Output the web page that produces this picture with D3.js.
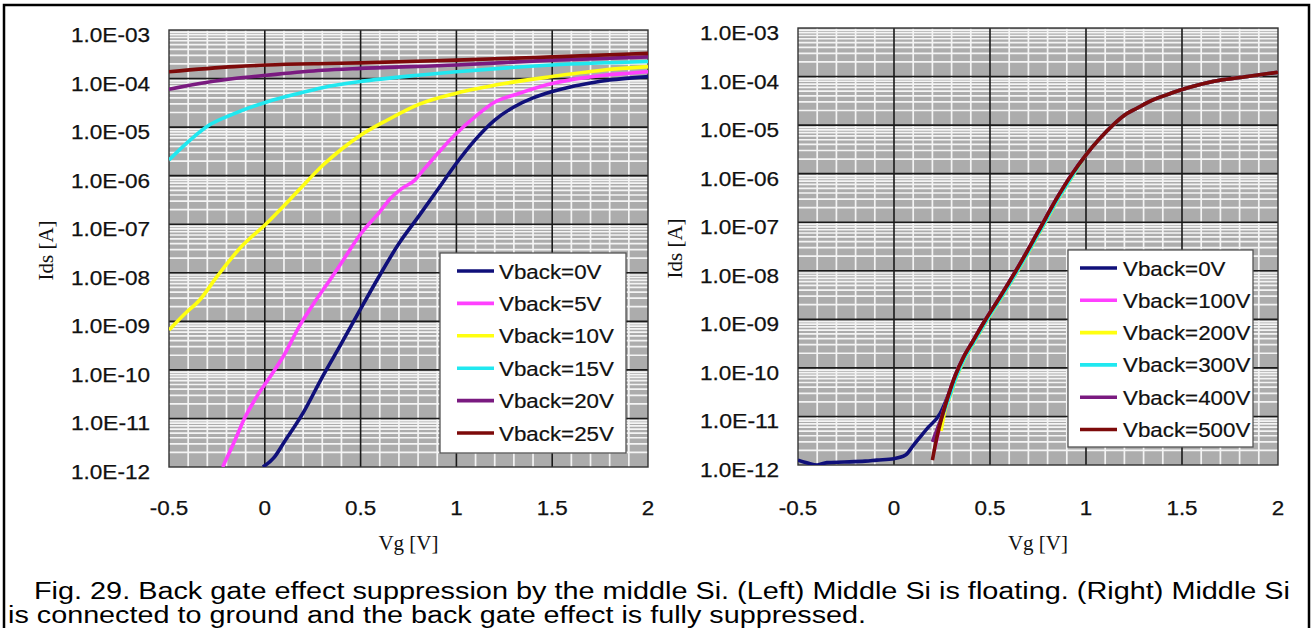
<!DOCTYPE html>
<html><head><meta charset="utf-8">
<script src="https://cdn.jsdelivr.net/npm/d3@7"></script>
<style>body{margin:0;background:#fff;} svg{display:block;}</style>
</head><body>
<svg id="c" width="1312" height="628"></svg>
<script>
// ---------- DATA ----------
const xTicks = [-0.5, 0, 0.5, 1, 1.5, 2];
const xTickLabels = ["-0.5", "0", "0.5", "1", "1.5", "2"];
const yTicks = [1e-3, 1e-4, 1e-5, 1e-6, 1e-7, 1e-8, 1e-9, 1e-10, 1e-11, 1e-12];
const yTickLabels = ["1.0E-03","1.0E-04","1.0E-05","1.0E-06","1.0E-07","1.0E-08","1.0E-09","1.0E-10","1.0E-11","1.0E-12"];

const leftNames = ["Vback=0V","Vback=5V","Vback=10V","Vback=15V","Vback=20V","Vback=25V"];
const rightNames = ["Vback=0V","Vback=100V","Vback=200V","Vback=300V","Vback=400V","Vback=500V"];
const colors = ["#10107a","#ff40ff","#ffff10","#20e8f0","#7a1a80","#7d0a0a"];

// Left panel (middle Si floating)
const L0_vg = [-0.01,0.05,0.1,0.2,0.3,0.4,0.5,0.6,0.7,0.8,0.9,1.0,1.1,1.2,1.3,1.4,1.5,1.6,1.7,1.8,1.9,2.0];
const L0_id = [1e-12,1.6e-12,3.2e-12,1.3e-11,7.1e-11,3.5e-10,1.8e-9,8.9e-9,4.0e-8,1.4e-7,5.0e-7,1.8e-6,5.6e-6,1.4e-5,2.6e-5,4.0e-5,5.4e-5,6.8e-5,8.1e-5,9.3e-5,1.02e-4,1.1e-4];

const L5_vg = [-0.22,-0.15,-0.11,-0.05,0.04,0.1,0.18,0.26,0.34,0.4,0.5,0.6,0.65,0.72,0.78,0.82,0.9,1.0,1.1,1.19,1.33,1.5,1.65,1.77,1.9,2.0];
const L5_id = [1e-12,4.0e-12,9.3e-12,2.5e-11,8.5e-11,2.0e-10,7.9e-10,2.5e-9,7.1e-9,1.6e-8,6.3e-8,1.8e-7,3.2e-7,5.6e-7,7.9e-7,1.2e-6,2.8e-6,7.4e-6,1.66e-5,3.1e-5,5.0e-5,7.9e-5,1.02e-4,1.17e-4,1.29e-4,1.38e-4];

const L10_vg = [-0.5,-0.42,-0.34,-0.25,-0.13,0.01,0.13,0.22,0.3,0.4,0.5,0.64,0.81,1.0,1.25,1.5,1.77,2.0];
const L10_id = [6.6e-10,1.4e-9,2.75e-9,8.3e-9,3.2e-8,1.05e-7,3.2e-7,7.6e-7,1.6e-6,3.5e-6,6.8e-6,1.4e-5,3.0e-5,5.0e-5,7.9e-5,1.1e-4,1.5e-4,1.76e-4];

const L15_vg = [-0.5,-0.39,-0.29,-0.16,0.01,0.18,0.3,0.5,0.8,1.0,1.5,2.0];
const L15_id = [2.1e-6,5.4e-6,1.1e-5,1.9e-5,3.3e-5,5.0e-5,6.5e-5,8.7e-5,1.17e-4,1.38e-4,1.9e-4,2.24e-4];

const L20_vg = [-0.5,-0.34,-0.16,0.01,0.3,0.5,1.0,1.5,2.0];
const L20_id = [6.0e-5,7.9e-5,1.0e-4,1.17e-4,1.48e-4,1.62e-4,1.9e-4,2.4e-4,2.8e-4];

const L25_vg = [-0.5,-0.16,0.01,0.33,0.5,1.0,1.5,2.0];
const L25_id = [1.38e-4,1.76e-4,1.9e-4,2.04e-4,2.1e-4,2.4e-4,2.8e-4,3.3e-4];

// Right panel (middle Si grounded)
const R0_vg = [-0.5,-0.45,-0.4,-0.35,-0.26,-0.15,-0.09,0.0,0.06,0.1,0.17,0.24,0.28,0.32,0.36,0.41,0.47,0.55,0.65,0.75,0.85,0.92,1.0,1.07,1.142,1.2,1.263,1.34,1.42,1.54,1.66,1.84,2.0];
const R0_id = [1.26e-12,1.1e-12,1.0e-12,1.12e-12,1.15e-12,1.2e-12,1.26e-12,1.35e-12,1.6e-12,2.5e-12,5.5e-12,1.15e-11,2.6e-11,7.1e-11,1.6e-10,3.5e-10,8.9e-10,2.8e-9,1.26e-8,6.3e-8,3.2e-7,8.9e-7,2.45e-6,5.2e-6,1.02e-5,1.6e-5,2.2e-5,3.2e-5,4.2e-5,6.0e-5,7.9e-5,1.0e-4,1.23e-4];

const R100_vg = [0.21,0.23,0.25,0.28,0.32,0.36,0.41,0.47,0.55,0.65,0.75,0.85,0.92,1.0,1.07,1.142,1.2,1.263,1.34,1.42,1.54,1.66,1.84,2.0];
const R100_id = [2.0e-12,4.5e-12,1.0e-11,2.5e-11,7.1e-11,1.6e-10,3.5e-10,8.9e-10,2.8e-9,1.26e-8,6.3e-8,3.2e-7,8.9e-7,2.45e-6,5.2e-6,1.02e-5,1.6e-5,2.2e-5,3.2e-5,4.2e-5,6.0e-5,7.9e-5,1.0e-4,1.23e-4];

const R200_vg = [0.245,0.265,0.29,0.33,0.37,0.42,0.48,0.56,0.66,0.76,0.86,0.93,1.0,1.07,1.142,1.2,1.263,1.34,1.42,1.54,1.66,1.84,2.0];
const R200_id = [5.0e-12,1.3e-11,2.5e-11,7.1e-11,1.6e-10,3.5e-10,8.9e-10,2.8e-9,1.26e-8,6.3e-8,3.2e-7,8.9e-7,2.45e-6,5.2e-6,1.02e-5,1.6e-5,2.2e-5,3.2e-5,4.2e-5,6.0e-5,7.9e-5,1.0e-4,1.23e-4];

const R300_vg = [0.24,0.262,0.288,0.328,0.368,0.418,0.478,0.558,0.658,0.758,0.858,0.928,1.0,1.07,1.142,1.2,1.263,1.34,1.42,1.54,1.66,1.84,2.0];
const R300_id = [8.0e-12,1.3e-11,2.5e-11,7.1e-11,1.6e-10,3.5e-10,8.9e-10,2.8e-9,1.26e-8,6.3e-8,3.2e-7,8.9e-7,2.45e-6,5.2e-6,1.02e-5,1.6e-5,2.2e-5,3.2e-5,4.2e-5,6.0e-5,7.9e-5,1.0e-4,1.23e-4];

const R400_vg = [0.2,0.225,0.25,0.28,0.32,0.36,0.41,0.47,0.55,0.65,0.75,0.85,0.92,1.0,1.07,1.142,1.2,1.263,1.34,1.42,1.54,1.66,1.84,2.0];
const R400_id = [3.0e-12,5.5e-12,1.0e-11,2.5e-11,7.1e-11,1.6e-10,3.5e-10,8.9e-10,2.8e-9,1.26e-8,6.3e-8,3.2e-7,8.9e-7,2.45e-6,5.2e-6,1.02e-5,1.6e-5,2.2e-5,3.2e-5,4.2e-5,6.0e-5,7.9e-5,1.0e-4,1.23e-4];

const R500_vg = [0.2,0.22,0.25,0.28,0.32,0.36,0.41,0.47,0.55,0.65,0.75,0.85,0.92,1.0,1.07,1.142,1.2,1.263,1.34,1.42,1.54,1.66,1.84,2.0];
const R500_id = [1.26e-12,3.2e-12,1.0e-11,2.5e-11,7.1e-11,1.6e-10,3.5e-10,8.9e-10,2.8e-9,1.26e-8,6.3e-8,3.2e-7,8.9e-7,2.45e-6,5.2e-6,1.02e-5,1.6e-5,2.2e-5,3.2e-5,4.2e-5,6.0e-5,7.9e-5,1.0e-4,1.23e-4];

const captionLines = [
  "Fig. 29. Back gate effect suppression by the middle Si. (Left) Middle Si is floating. (Right) Middle Si",
  "is connected to ground and the back gate effect is fully suppressed."
];

// ---------- DRAW ----------
const svg = d3.select("#c");
function stretch(sel, k){ sel.each(function(){ const w=this.getComputedTextLength(); d3.select(this).attr("textLength", w*k).attr("lengthAdjust","spacingAndGlyphs"); }); }
function fitTo(sel, target){ sel.attr("textLength", target).attr("lengthAdjust","spacingAndGlyphs"); }

// outer frame
svg.append("path").attr("d","M4,640V5H1309V640").attr("fill","none").attr("stroke","#000").attr("stroke-width",2.5);

function panel(id, box, series, names, legendBox) {
  const x = d3.scaleLinear().domain([-0.5, 2]).range([box.x0, box.x1]);
  const y = d3.scaleLog().domain([1e-12, 1e-3]).range([box.y1, box.y0]);
  const g = svg.append("g");
  g.append("rect").attr("x",box.x0).attr("y",box.y0).attr("width",box.x1-box.x0).attr("height",box.y1-box.y0).attr("fill","#acacac");
  // minor grid
  const minorX = d3.range(-5, 21).map(i => i/10).filter(v => Math.abs(v*2 - Math.round(v*2)) > 1e-6);
  g.selectAll(null).data(minorX).join("line")
    .attr("x1", d=>x(d)).attr("x2", d=>x(d)).attr("y1", box.y0).attr("y2", box.y1)
    .attr("stroke","#f4f4f4").attr("stroke-width",1.7);
  const minorY = [];
  for (let e=-12; e<-3; e++) for (let k=2;k<=9;k++) minorY.push(k*Math.pow(10,e));
  g.selectAll(null).data(minorY).join("line")
    .attr("x1", box.x0).attr("x2", box.x1).attr("y1", d=>y(d)).attr("y2", d=>y(d))
    .attr("stroke","#f4f4f4").attr("stroke-width",1.7);
  // major grid
  g.selectAll(null).data(xTicks.slice(1,-1)).join("line")
    .attr("x1", d=>x(d)).attr("x2", d=>x(d)).attr("y1", box.y0).attr("y2", box.y1)
    .attr("stroke","#1a1a1a").attr("stroke-width",1.6);
  g.selectAll(null).data(yTicks.slice(1,-1)).join("line")
    .attr("x1", box.x0).attr("x2", box.x1).attr("y1", d=>y(d)).attr("y2", d=>y(d))
    .attr("stroke","#1a1a1a").attr("stroke-width",1.6);
  g.append("rect").attr("x",box.x0).attr("y",box.y0).attr("width",box.x1-box.x0).attr("height",box.y1-box.y0)
    .attr("fill","none").attr("stroke","#333").attr("stroke-width",1.4);

  // clip
  svg.append("clipPath").attr("id","clip"+id).append("rect")
    .attr("x",box.x0).attr("y",box.y0-3).attr("width",box.x1-box.x0+1).attr("height",box.y1-box.y0+3);
  const line = d3.line().x(d=>x(d[0])).y(d=>y(d[1])).curve(d3.curveMonotoneX);
  const lg = g.append("g").attr("clip-path","url(#clip"+id+")");
  series.forEach((s,i) => {
    const pts = s[0].map((v,j)=>[v, s[1][j]]);
    lg.append("path").attr("d", line(pts)).attr("fill","none")
      .attr("stroke", colors[i]).attr("stroke-width",3.6).attr("stroke-linejoin","round").attr("stroke-linecap","butt");
  });

  // y tick labels
  const yl = g.selectAll(null).data(yTicks).join("text")
    .attr("x", box.x0-19).attr("y", d=>y(d)+5).attr("text-anchor","end").attr("dominant-baseline","central")
    .attr("font-family","Liberation Sans, Arial, sans-serif").attr("font-size",20).attr("fill","#111")
    .attr("stroke","#111").attr("stroke-width",0.25)
    .text((d,i)=>yTickLabels[i]);
  fitTo(yl, 79);
  // x tick labels
  const xl = g.selectAll(null).data(xTicks).join("text")
    .attr("x", d=>x(d)).attr("y", 508).attr("text-anchor","middle").attr("dominant-baseline","central")
    .attr("font-family","Liberation Sans, Arial, sans-serif").attr("font-size",20).attr("fill","#111")
    .attr("stroke","#111").attr("stroke-width",0.25)
    .text((d,i)=>xTickLabels[i]);
  stretch(xl, 1.12);
  // axis titles
  g.append("text").attr("x",(box.x0+box.x1)/2).attr("y",543).attr("text-anchor","middle").attr("dominant-baseline","central")
    .attr("font-family","Liberation Serif, serif").attr("font-size",21).attr("fill","#111").text("Vg [V]");
  g.append("text").attr("transform",`translate(${box.x0-123},${(box.y0+box.y1)/2+2}) rotate(-90)`)
    .attr("text-anchor","middle").attr("dominant-baseline","central")
    .attr("font-family","Liberation Serif, serif").attr("font-size",21).attr("fill","#111").text("Ids [A]");

  // legend
  const L = legendBox;
  g.append("rect").attr("x",L.x0).attr("y",L.y0).attr("width",L.x1-L.x0).attr("height",L.y1-L.y0)
    .attr("fill","#fff").attr("stroke","#555").attr("stroke-width",1.3);
  names.forEach((n,i) => {
    const yy = L.first + i*L.step;
    g.append("line").attr("x1",L.sx0).attr("x2",L.sx1).attr("y1",yy).attr("y2",yy)
      .attr("stroke",colors[i]).attr("stroke-width",3.6);
    const t = g.append("text").attr("x",L.tx).attr("y",yy).attr("dominant-baseline","central")
      .attr("font-family","Liberation Sans, Arial, sans-serif").attr("font-size",20.5).attr("fill","#111")
      .attr("stroke","#111").attr("stroke-width",0.2).text(n);
    stretch(t, 1.09);
  });
}

panel("L", {x0:169,x1:648,y0:30,y1:467},
  [[L0_vg,L0_id],[L5_vg,L5_id],[L10_vg,L10_id],[L15_vg,L15_id],[L20_vg,L20_id],[L25_vg,L25_id]],
  leftNames, {x0:440,x1:626,y0:253,y1:453,first:271,step:32.4,sx0:457,sx1:494,tx:499});
panel("R", {x0:798,x1:1278,y0:28,y1:465},
  [[R0_vg,R0_id],[R100_vg,R100_id],[R200_vg,R200_id],[R300_vg,R300_id],[R400_vg,R400_id],[R500_vg,R500_id]],
  rightNames, {x0:1068,x1:1253,y0:250,y1:447,first:268,step:32.3,sx0:1080,sx1:1117,tx:1123});

// caption
const c1 = svg.append("text").attr("x",34).attr("y",591).attr("dominant-baseline","central")
  .attr("font-family","Liberation Sans, Arial, sans-serif").attr("font-size",23).attr("fill","#000").text(captionLines[0]);
fitTo(c1, 1256);
const c2 = svg.append("text").attr("x",8).attr("y",615).attr("dominant-baseline","central")
  .attr("font-family","Liberation Sans, Arial, sans-serif").attr("font-size",23).attr("fill","#000").text(captionLines[1]);
fitTo(c2, 858);
</script>
</body></html>
